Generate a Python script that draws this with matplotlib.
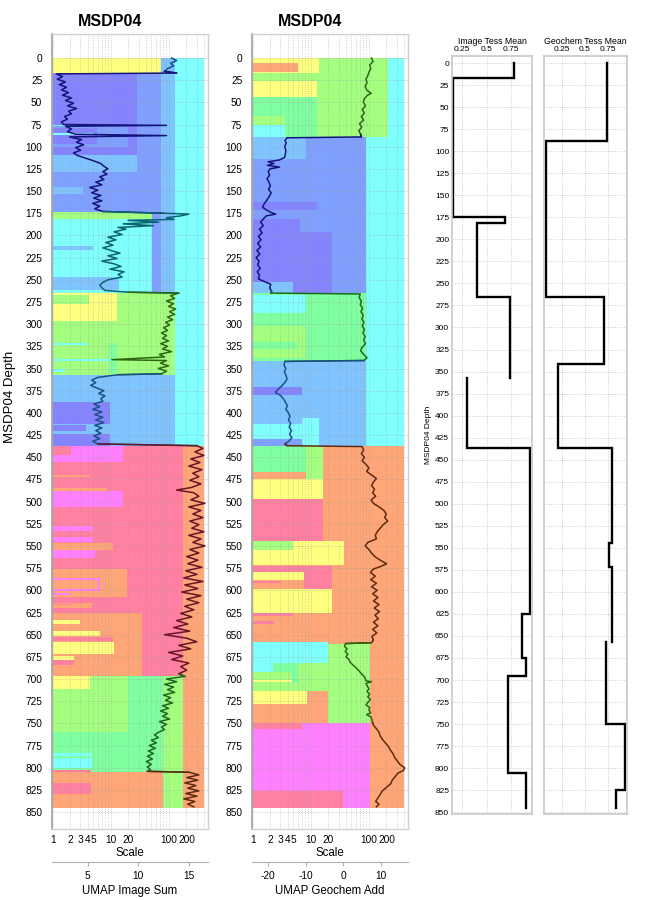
import numpy as np
import matplotlib
matplotlib.use("Agg")
import matplotlib.pyplot as plt  # noqa: E402
from matplotlib.ticker import LogLocator, NullFormatter  # noqa: E402

plt.rcParams['font.family'] = ['Liberation Sans', 'DejaVu Sans']
plt.rcParams['axes.unicode_minus'] = False

# ---- data -------------------------------------------------------------
# tessellation blocks: (top depth, bottom depth, scale reached, class)
IMG_BLOCKS = [
    (0, 437, 400, 'cyan'), (437, 845, 400, 'orange'),
    (0, 265, 127, 'sky'), (265, 357, 127, 'lime'), (357, 437, 127, 'sky'),
    (437, 697, 174, 'pink'), (697, 845, 174, 'lime'),
    (0, 17, 73, 'yellow'), (17, 265, 73, 'blue'),
    (17, 109, 28, 'violet'), (76, 100, 19.6, 'blue'), (79, 97, 5.7, 'violet'),
    (75, 76.5, 5.7, 'cyan'), (85, 87, 4.9, 'cyan'),
    (109, 129, 28, 'sky'), (129, 175, 28, 'blue'), (146, 153, 3.3, 'sky'),
    (174, 182, 51, 'lime'), (182, 265, 51, 'cyan'),
    (212, 216, 4.9, 'sky'), (247, 262, 14, 'sky'),
    (265, 297, 12.7, 'yellow'), (267, 277, 4.2, 'lime'),
    (321, 356, 12.7, 'mint'), (321, 356, 9.3, 'lime'), (321, 324, 4.0, 'cyan'),
    (339, 342, 9.3, 'cyan'), (351, 354, 1.6, 'cyan'),
    (388, 437, 9.6, 'violet'), (412, 424, 9.6, 'sky'), (414, 420, 3.7, 'violet'),
    (437, 455, 16, 'magenta'), (437, 448, 2.1, 'pink'),
    (470, 472, 4.3, 'orange'), (485, 488, 8.5, 'orange'), (488, 506, 16, 'magenta'),
    (527, 533, 4.9, 'magenta'), (540, 546, 4.9, 'magenta'), (547, 555, 10.8, 'orange'),
    (555, 564, 5.3, 'magenta'), (576, 608, 18.9, 'orange'), (586, 601, 6.5, 'magenta'),
    (588, 599, 6.0, 'orange'), (603, 605, 2.0, 'magenta'), (614, 620, 4.7, 'orange'),
    (615, 617, 2.1, 'pink'), (626, 697, 34, 'orange'), (634, 638, 3.0, 'yellow'),
    (646, 652, 6.5, 'yellow'), (653, 657, 10.9, 'pink'), (658, 672, 11.2, 'yellow'),
    (674, 678, 2.3, 'yellow'), (679, 684, 2.3, 'pink'),
    (697, 805, 79, 'mint'), (805, 845, 79, 'orange'), (697, 760, 19.6, 'lime'),
    (697, 711, 4.3, 'yellow'), (783, 787, 4.7, 'cyan'), (789, 800, 4.7, 'cyan'),
    (802, 805, 4.5, 'pink'), (817, 829, 4.5, 'pink'),
]

GEO_BLOCKS = [
    (0, 437, 400, 'cyan'), (437, 845, 400, 'orange'),
    (0, 89, 213, 'lime'), (89, 265, 89, 'blue'), (265, 342, 89, 'mint'),
    (342, 437, 89, 'sky'), (660, 750, 104, 'lime'), (750, 845, 104, 'magenta'),
    (0, 17, 13.7, 'yellow'), (6, 16, 6.0, 'orange'), (26, 44, 12.7, 'yellow'),
    (44, 89, 12.7, 'mint'), (65, 75, 3.6, 'lime'), (75, 89, 3.6, 'cyan'),
    (89, 114, 8.2, 'sky'), (162, 171, 12.7, 'violet'), (196, 265, 23, 'violet'),
    (181, 265, 6.4, 'violet'), (252, 265, 4.9, 'sky'),
    (267, 288, 8.2, 'cyan'), (302, 338, 8.2, 'lime'), (320, 328, 5.7, 'mint'),
    (371, 380, 7.0, 'violet'), (406, 437, 13.8, 'cyan'), (406, 413, 7.0, 'sky'),
    (429, 437, 7.0, 'blue'),
    (437, 475, 16, 'lime'), (437, 467, 8.2, 'mint'), (467, 475, 8.2, 'orange'),
    (475, 497, 16, 'yellow'), (497, 544, 16, 'pink'),
    (544, 572, 37, 'yellow'), (544, 554, 4.9, 'lime'),
    (573, 598, 23, 'pink'), (579, 588, 7.6, 'yellow'), (588, 598, 7.6, 'orange'),
    (589, 592, 3.0, 'pink'), (598, 625, 23, 'yellow'), (626, 629, 4.9, 'pink'),
    (635, 638, 2.3, 'pink'),
    (658, 682, 20, 'cyan'), (682, 704, 6.0, 'mint'), (682, 692, 2.2, 'cyan'),
    (692, 704, 4.8, 'lime'), (701, 703, 4.7, 'yellow'),
    (714, 750, 20, 'orange'), (714, 728, 8.5, 'yellow'),
    (750, 756, 7.0, 'pink'), (826, 845, 36, 'pink'),
]

# UMAP curves: (depth, value)
IMG_UMAP = [
    (0, 13.3), (3, 13.8), (6, 13.2), (9, 13.5), (12, 12.9), (15, 12.6), (17, 13.8),
    (18, 1.9), (21, 2.5), (24, 2.0), (27, 2.8), (30, 2.2), (33, 2.9), (36, 2.4),
    (39, 3.1), (42, 2.5), (45, 3.4), (48, 2.8), (51, 3.6), (54, 3.0), (57, 3.9),
    (60, 3.1), (63, 3.4), (66, 2.7), (69, 3.0), (72, 2.4), (75, 2.6), (76, 12.8),
    (77, 2.8), (80, 3.4), (83, 3.0), (86, 3.8), (87.5, 12.8), (89, 3.2), (92, 4.4),
    (95, 3.9), (98, 4.6), (101, 3.8), (104, 4.3), (107, 3.6), (110, 4.0),
    (113, 4.8), (116, 5.6), (119, 6.3), (122, 6.6), (125, 7.0), (128, 6.5),
    (131, 6.9), (134, 6.2), (137, 6.6), (140, 5.8), (143, 6.4), (146, 5.2),
    (149, 6.0), (152, 5.4), (155, 6.3), (158, 5.6), (161, 6.4), (164, 5.5),
    (167, 6.2), (170, 5.7), (173, 6.5), (175, 12.5), (176, 15.0), (178, 14.2),
    (180, 12.8), (182, 13.5), (183, 9.0), (185, 12.0), (187, 8.5), (189, 11.5),
    (191, 8.0), (193, 8.8), (196, 7.6), (199, 8.4), (202, 7.0), (205, 7.8),
    (208, 6.8), (211, 7.5), (214, 6.5), (217, 7.3), (220, 8.2), (223, 7.0),
    (226, 7.9), (229, 6.4), (232, 7.6), (235, 8.3), (238, 7.2), (241, 8.6),
    (244, 8.0), (247, 8.4), (250, 7.0), (253, 6.5), (256, 6.2), (259, 6.4),
    (262, 6.7), (264, 9.0), (265, 14.0), (268, 13.2), (271, 13.6), (274, 12.8),
    (277, 13.5), (280, 13.0), (283, 13.7), (286, 13.1), (289, 13.6), (292, 12.9),
    (295, 13.4), (298, 12.7), (301, 13.1), (304, 12.5), (307, 12.9), (310, 12.3),
    (313, 12.8), (316, 12.4), (319, 13.0), (322, 12.2), (325, 12.9), (328, 12.4),
    (331, 13.3), (334, 12.1), (337, 12.6), (340, 7.4), (341, 12.8), (344, 12.2),
    (347, 13.0), (350, 12.0), (353, 12.8), (356, 12.3), (357, 8.0), (360, 6.0),
    (363, 5.4), (366, 5.8), (369, 5.3), (372, 5.9), (375, 6.6), (378, 6.1),
    (381, 6.7), (384, 6.3), (387, 6.5), (390, 5.6), (393, 6.2), (396, 5.5),
    (399, 6.4), (402, 5.7), (405, 6.5), (408, 5.8), (411, 6.6), (414, 5.7),
    (417, 6.4), (420, 5.8), (423, 6.3), (426, 5.6), (429, 6.2), (432, 5.5),
    (435, 6.0), (437, 15.8), (440, 16.4), (444, 15.6), (448, 16.5), (452, 15.2),
    (456, 16.1), (460, 15.0), (464, 16.3), (468, 15.4), (472, 16.0), (476, 15.1),
    (480, 16.2), (484, 15.3), (487, 13.8), (490, 15.5), (494, 16.0), (498, 15.2),
    (502, 16.6), (506, 15.0), (510, 16.2), (514, 15.4), (518, 16.4), (522, 15.1),
    (526, 16.0), (530, 15.3), (534, 16.5), (538, 15.0), (542, 16.2), (546, 15.4),
    (550, 16.6), (554, 15.1), (558, 16.0), (562, 14.8), (566, 15.9), (570, 14.9),
    (574, 16.3), (578, 14.7), (582, 15.8), (586, 14.5), (590, 16.4), (594, 14.6),
    (598, 15.9), (602, 14.3), (606, 16.2), (610, 14.8), (614, 16.0), (618, 14.6),
    (622, 15.5), (626, 14.2), (630, 15.3), (634, 13.8), (638, 14.9), (642, 13.5),
    (646, 15.1), (650, 12.6), (654, 14.8), (658, 15.8), (662, 14.0), (666, 15.2),
    (670, 13.0), (674, 14.4), (678, 13.3), (682, 15.0), (686, 14.2), (690, 14.8),
    (694, 14.0), (697, 14.6), (700, 12.8), (703, 13.8), (706, 12.6), (709, 13.5),
    (712, 12.9), (715, 13.6), (718, 12.5), (721, 13.2), (724, 12.7), (727, 13.4),
    (730, 12.4), (733, 13.0), (736, 12.2), (739, 12.9), (742, 12.4), (745, 13.1),
    (748, 12.1), (751, 12.8), (754, 12.3), (757, 12.6), (760, 12.0), (763, 11.6),
    (766, 12.0), (769, 11.3), (772, 11.8), (775, 11.1), (778, 11.7), (781, 11.0),
    (784, 11.5), (787, 10.9), (790, 11.4), (793, 10.8), (796, 11.3), (799, 10.9),
    (802, 11.2), (804, 10.9), (805, 15.0), (808, 16.0), (811, 14.8), (814, 15.9),
    (817, 14.6), (820, 15.7), (823, 14.9), (826, 16.0), (829, 14.7), (832, 15.8),
    (835, 14.5), (838, 15.6), (841, 14.9), (844, 15.5),
]

GEO_UMAP = [
    (0, 7.5), (4, 7.9), (8, 7.0), (12, 7.3), (16, 6.8), (20, 6.5), (24, 6.0),
    (28, 6.3), (32, 5.8), (36, 6.2), (40, 7.4), (42, 6.4), (46, 5.6), (50, 5.3),
    (54, 5.9), (58, 5.0), (62, 5.6), (66, 4.8), (70, 5.4), (74, 4.3), (78, 4.9),
    (82, 4.1), (86, 4.6), (89, 4.8), (90, -15.0), (93, -15.5), (96, -15.2),
    (100, -15.6), (104, -15.3), (108, -15.4), (112, -15.6), (115, -17.0),
    (117, -20.0), (119, -18.5), (121, -20.2), (123, -17.0), (125, -19.5),
    (128, -20.0), (132, -19.6), (136, -20.3), (140, -19.8), (144, -19.4),
    (148, -19.9), (152, -19.2), (156, -19.7), (160, -20.3), (164, -21.0),
    (168, -21.5), (171, -20.6), (174, -19.3), (176, -18.0), (178, -20.5),
    (181, -21.2), (185, -22.0), (189, -21.3), (193, -22.3), (197, -21.6),
    (201, -22.6), (205, -21.9), (209, -22.8), (213, -22.0), (217, -23.0),
    (221, -22.2), (225, -23.2), (229, -22.4), (233, -22.8), (237, -22.1),
    (241, -22.9), (245, -22.3), (249, -22.6), (252, -21.0), (255, -19.3),
    (259, -19.6), (263, -19.1), (265, -19.2), (266, 4.5), (270, 4.2), (274, 4.8),
    (278, 4.5), (282, 5.1), (286, 4.7), (290, 5.3), (294, 4.9), (298, 5.5),
    (302, 5.0), (306, 5.6), (310, 5.2), (314, 5.8), (318, 5.4), (322, 5.9),
    (326, 5.0), (330, 4.6), (334, 5.4), (338, 6.3), (341, 5.5), (342, -15.5),
    (346, -15.8), (350, -15.3), (354, -15.7), (358, -15.2), (362, -15.0),
    (366, -15.6), (370, -16.5), (374, -17.5), (377, -18.1), (380, -16.8),
    (384, -16.0), (388, -15.4), (392, -14.9), (396, -15.3), (400, -14.6),
    (404, -14.2), (408, -14.6), (412, -14.0), (416, -14.4), (420, -13.8),
    (424, -14.3), (428, -13.7), (432, -14.5), (435, -15.5), (437, -15.0),
    (438, 5.0), (442, 5.4), (446, 4.8), (450, 5.6), (454, 5.0), (458, 6.0),
    (462, 6.8), (466, 6.2), (470, 7.5), (474, 8.8), (478, 8.0), (482, 7.5),
    (486, 8.3), (490, 7.8), (494, 8.6), (498, 7.4), (502, 8.0), (506, 9.5),
    (510, 10.8), (514, 11.4), (518, 11.0), (522, 11.8), (526, 10.6), (530, 9.8),
    (534, 9.0), (538, 8.5), (542, 8.8), (546, 6.5), (550, 5.8), (554, 6.8),
    (558, 7.5), (562, 8.4), (566, 9.8), (570, 11.5), (573, 10.0), (576, 8.0),
    (580, 7.2), (584, 8.5), (588, 7.3), (592, 8.8), (596, 7.5), (600, 9.0),
    (604, 7.8), (608, 9.2), (612, 8.0), (616, 9.5), (620, 8.2), (624, 9.6),
    (628, 8.4), (632, 9.3), (636, 8.0), (640, 9.2), (644, 7.8), (648, 8.9),
    (652, 7.6), (656, 8.0), (659, 7.5), (660, 0.6), (663, 0.3), (666, 1.0),
    (669, 0.5), (672, 1.2), (675, 0.7), (678, 1.5), (681, 1.8), (684, 2.5),
    (687, 3.3), (690, 4.0), (693, 4.6), (696, 5.3), (699, 5.8), (702, 6.0),
    (703, 7.5), (705, 6.0), (708, 6.4), (711, 6.8), (714, 6.3), (717, 7.0),
    (720, 6.5), (723, 7.2), (726, 6.6), (729, 6.0), (732, 7.0), (735, 6.8),
    (738, 7.3), (740, 6.2), (743, 7.4), (746, 7.6), (749, 7.8), (752, 8.0),
    (756, 8.8), (760, 9.5), (764, 9.8), (768, 10.4), (772, 11.2), (776, 12.0),
    (780, 12.5), (784, 13.2), (788, 13.6), (792, 14.3), (796, 15.0), (800, 16.3),
    (803, 16.0), (806, 14.5), (810, 13.8), (814, 13.0), (818, 12.6), (822, 11.5),
    (826, 10.4), (830, 9.8), (834, 9.2), (838, 8.6), (841, 9.5), (844, 8.8),
]

# which class colours each stretch of the UMAP curve
IMG_LINE_SEG = [(0, 17, 'sky'), (17, 175, 'violet'), (175, 182, 'cyan'),
                (182, 265, 'cyan'), (265, 357, 'lime'), (357, 437, 'sky'),
                (437, 697, 'pink'), (697, 805, 'mint'), (805, 845, 'orange')]
GEO_LINE_SEG = [(0, 89, 'lime'), (89, 265, 'violet'), (265, 342, 'mint'),
                (342, 437, 'sky'), (437, 660, 'orange'), (660, 750, 'lime'),
                (750, 845, 'orange')]

# tessellation means: step boundaries and values (nan = break)
IMG_TESS_DEPTH = [0, 17, 175, 182, 265, 357, 357, 437, 625, 675, 695, 805, 845]
IMG_TESS_VALUE = [0.78, 0.16, 0.69, 0.40, 0.74, np.nan, 0.30, 0.94, 0.86, 0.90, 0.72, 0.90]
GEO_TESS_DEPTH = [0, 89, 265, 342, 437, 545, 572, 657, 657, 750, 825, 845]
GEO_TESS_VALUE = [0.74, 0.08, 0.71, 0.21, 0.79, 0.76, 0.79, np.nan, 0.73, 0.93, 0.84]

CLASS_COLORS = {
    'cyan': '#80ffff', 'sky': '#80c4ff', 'blue': '#80a0ff', 'violet': '#8484ff',
    'mint': '#80ffa0', 'lime': '#a4ff80', 'yellow': '#ffff80', 'orange': '#ffa678',
    'pink': '#ff80a0', 'magenta': '#ff80ff',
}
LINE_COLORS = {
    'cyan': '#0b6470', 'sky': '#1a5088', 'blue': '#182a8a', 'violet': '#14147a',
    'mint': '#1c6a20', 'lime': '#2c6810', 'yellow': '#6a6a10', 'orange': '#5e2a10',
    'pink': '#6a1428', 'magenta': '#6a106a',
}

GRID = dict(ls=':', color='#9a9a9a', lw=0.6, alpha=0.6)


def style_frame(ax):
    for s in ax.spines.values():
        s.set_color('#d0d0d0')
        s.set_linewidth(1.0)
    ax.spines['left'].set_color('#a8a8a8')
    ax.spines['left'].set_linewidth(1.3)


def block_panel(ax, blocks, curve, segs, xlim2, xticks2, xlabel2):
    for top, bot, scale, cls in blocks:
        ax.barh(top, scale - 0.9, left=0.9, height=bot - top, align='edge',
                color=CLASS_COLORS[cls], lw=0, zorder=1)
    ax.set_xscale('log')
    ax.set_xlim(0.97, 470)
    ax.set_ylim(869, -27)
    ax.xaxis.set_minor_locator(LogLocator(subs=np.arange(2, 10)))
    ax.xaxis.set_minor_formatter(NullFormatter())
    ticks = [1, 2, 3, 4, 5, 10, 20, 100, 200]
    ax.set_xticks(ticks)
    ax.set_xticklabels([str(t) for t in ticks])
    ax.set_yticks(np.arange(0, 851, 25))
    ax.tick_params(axis='both', which='both', length=0, labelsize=7.3)
    ax.tick_params(axis='x', pad=4)
    ax.tick_params(axis='y', pad=7)
    ax.set_axisbelow(False)
    ax.grid(True, which='both', axis='x', zorder=2, **GRID)
    ax.grid(True, which='major', axis='y', zorder=2, **GRID)
    ax.set_xlabel('Scale', fontsize=8.3, labelpad=2)
    style_frame(ax)

    axl = ax.twiny()
    d = np.array([p[0] for p in curve], dtype=float)
    v = np.array([p[1] for p in curve], dtype=float)
    for top, bot, cls in segs:
        idx = np.where((d >= top) & (d <= bot))[0]
        if len(idx) == 0:
            continue
        if idx[0] > 0:
            idx = np.r_[idx[0] - 1, idx]
        axl.plot(v[idx], d[idx], color=LINE_COLORS[cls], lw=1.1, zorder=5)
    axl.set_xlim(*xlim2)
    axl.set_ylim(869, -27)
    axl.xaxis.set_ticks_position('bottom')
    axl.xaxis.set_label_position('bottom')
    axl.spines['bottom'].set_position(('outward', 24))
    for s in ['top', 'left', 'right']:
        axl.spines[s].set_visible(False)
    axl.spines['bottom'].set_color('#b0b0b0')
    axl.set_xticks(xticks2)
    axl.tick_params(axis='x', length=3, color='#b0b0b0', labelsize=7.3, pad=3)
    axl.set_xlabel(xlabel2, fontsize=8.3, labelpad=3)


def tess_panel(ax, depth, value, xlim, title, show_y):
    xs, ys = [], []
    for i, val in enumerate(value):
        xs += [val, val]
        ys += [depth[i], depth[i + 1]]
    ax.plot(xs, ys, color='black', lw=1.7, solid_joinstyle='miter')
    ax.set_xlim(*xlim)
    ax.set_ylim(852, -8)
    ax.xaxis.set_ticks_position('top')
    ax.set_xticks([0.25, 0.5, 0.75])
    ax.set_xticklabels(['0.25', '0.5', '0.75'])
    ax.set_yticks(np.arange(0, 851, 25))
    ax.tick_params(axis='both', length=0, labelsize=6.0, pad=2)
    if not show_y:
        ax.set_yticklabels([])
    ax.grid(True, **GRID)
    ax.set_title(title, fontsize=6.3, pad=9)
    for s in ax.spines.values():
        s.set_color('#c8c8c8')
        s.set_linewidth(1.2)


fig = plt.figure(figsize=(6.56, 9.0), dpi=100)
W, H = 656, 900


def rect(l, t, r, b):
    return [l / W, 1 - b / H, (r - l) / W, (b - t) / H]


ax1 = fig.add_axes(rect(52, 34, 208, 829))
ax2 = fig.add_axes(rect(252, 34, 408, 829))
ax3 = fig.add_axes(rect(452, 56, 532, 814))
ax4 = fig.add_axes(rect(544, 56, 627, 814))

block_panel(ax1, IMG_BLOCKS, IMG_UMAP, IMG_LINE_SEG, (1.47, 16.9), [5, 10, 15], 'UMAP Image Sum')
block_panel(ax2, GEO_BLOCKS, GEO_UMAP, GEO_LINE_SEG, (-24.3, 17.2), [-20, -10, 0, 10], 'UMAP Geochem Add')
tess_panel(ax3, IMG_TESS_DEPTH, IMG_TESS_VALUE, (0.15, 0.96), 'Image Tess Mean', True)
tess_panel(ax4, GEO_TESS_DEPTH, GEO_TESS_VALUE, (0.055, 0.955), 'Geochem Tess Mean', False)

fig.text(110 / W, 1 - 21 / H, 'MSDP04', fontsize=11.5, fontweight='bold', ha='center', va='center')
fig.text(310 / W, 1 - 21 / H, 'MSDP04', fontsize=11.5, fontweight='bold', ha='center', va='center')
fig.text(10 / W, 1 - 397 / H, 'MSDP04 Depth', fontsize=9.5, rotation=90, ha='center', va='center')
fig.text(429 / W, 1 - 435 / H, 'MSDP04 Depth', fontsize=6.0, rotation=90, ha='center', va='center')

fig.savefig('out.png', dpi=100)
